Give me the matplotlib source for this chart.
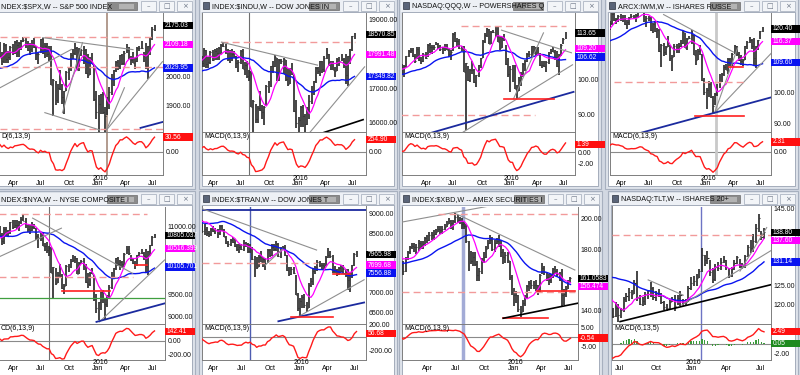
import numpy as np
import pandas as pd
import matplotlib
matplotlib.use("Agg")
import matplotlib.pyplot as plt
from matplotlib import transforms
from matplotlib.patches import Rectangle

W, H = 800, 375
FONT = ["Liberation Sans Narrow", "Liberation Sans", "DejaVu Sans"]
plt.rcParams["font.family"] = FONT

# weekly bars, Fridays 2014-09-05 .. 2016-07-22 (99 weeks); closes cover the whole span,
# highs/lows start at the index given next to them
weeks = pd.date_range("2014-09-05", "2016-07-22", freq="W-FRI")

spx_close = [2008, 1985, 2010, 1982, 1967, 1906, 1886, 1964, 2018, 2032,
             2039, 2064, 2068, 2075, 2002, 2071, 2088, 2058, 2045, 2019,
             2051, 1995, 2055, 2097, 2110, 2104, 2071, 2053, 2108, 2061,
             2067, 2102, 2081, 2117, 2108, 2116, 2123, 2126, 2107, 2092,
             2094, 2110, 2102, 2077, 2077, 2127, 2080, 2104, 2078, 2092,
             1971, 1989, 1921, 1961, 1958, 1931, 1951, 2015, 2033, 2075,
             2079, 2099, 2023, 2089, 2090, 2092, 2012, 2006, 2061, 2044,
             1922, 1880, 1907, 1940, 1880, 1865, 1918, 1948, 2000, 2022,
             2050, 2036, 2073, 2048, 2081, 2092, 2065, 2057, 2047, 2053,
             2099, 2099, 2096, 2071, 2037, 2103, 2130, 2162, 2175.03]
spx_start = 26
spx_high = [2118, 2083, 2114, 2111, 2089, 2103, 2111, 2120, 2126, 2117,
            2124, 2134, 2132, 2121, 2115, 2126, 2130, 2104, 2085, 2129,
            2133, 2114, 2113, 2105, 2103, 1993, 1986, 1975, 2021, 1974,
            1951, 2020, 2034, 2080, 2094, 2116, 2100, 2097, 2095, 2104,
            2094, 2076, 2067, 2082, 2038, 1950, 1936, 1940, 1947, 1895,
            1930, 1963, 2009, 2024, 2053, 2057, 2075, 2076, 2086, 2112,
            2100, 2070, 2085, 2064, 2100, 2103, 2121, 2085, 2113, 2103,
            2132, 2169, 2176]
spx_low = [2067, 2039, 2048, 2045, 2046, 2057, 2073, 2077, 2067, 2067,
           2092, 2119, 2099, 2086, 2072, 2084, 2097, 2056, 2044, 2080,
           2077, 2063, 2067, 2052, 1971, 1867, 1903, 1909, 1953, 1908,
           1872, 1952, 1990, 2019, 2059, 2073, 2022, 2019, 2070, 2042,
           2010, 1994, 2006, 2043, 1918, 1857, 1812, 1872, 1873, 1810,
           1869, 1891, 1937, 1969, 2017, 2022, 2026, 2039, 2039, 2080,
           2060, 2040, 2047, 2026, 2049, 2086, 2093, 2051, 2026, 1992,
           2075, 2126, 2155]

indu_close = [17137, 17031, 17280, 17113, 17010, 16544, 16380, 16805, 17391, 17573,
              17635, 17810, 17828, 17958, 17281, 17805, 18054, 17833, 17737, 17512,
              17673, 17165, 17825, 18019, 18140, 18133, 17857, 17749, 18128, 17713,
              17763, 18058, 17826, 18080, 18024, 18191, 18272, 18232, 18011, 17849,
              17899, 18016, 17947, 17730, 17760, 18087, 17569, 17690, 17373, 17477,
              16460, 16643, 16102, 16433, 16385, 16315, 16472, 17084, 17216, 17647,
              17664, 17910, 17245, 17824, 17798, 17848, 17265, 17128, 17553, 17425,
              16347, 15988, 16094, 16466, 16205, 15974, 16392, 16640, 17007, 17213,
              17602, 17516, 17793, 17577, 17898, 18004, 17774, 17741, 17535, 17501,
              17873, 17807, 17866, 17675, 17401, 17949, 18147, 18517, 18570.85]
indu_start = 26
indu_high = [18290, 17950, 18180, 18120, 17910, 18080, 18110, 18140, 18180, 18210,
             18290, 18350, 18300, 18150, 18110, 18140, 18100, 17950, 17830, 18130,
             18140, 17760, 17800, 17530, 17500, 16650, 16550, 16480, 16930, 16520,
             16500, 17100, 17220, 17650, 17800, 17980, 17880, 17860, 17850, 17900,
             17840, 17600, 17600, 17750, 17400, 16650, 16170, 16490, 16510, 16250,
             16450, 16800, 17060, 17210, 17630, 17630, 17800, 17800, 17940, 18170,
             18010, 17800, 17810, 17620, 17890, 17930, 18000, 17900, 18010, 17950,
             18150, 18540, 18620]
indu_low = [17830, 17630, 17620, 17610, 17600, 17700, 17810, 17820, 17840, 17830,
            17990, 18200, 17990, 17800, 17740, 17800, 17900, 17600, 17470, 17700,
            17560, 17400, 17300, 17230, 16450, 15370, 15980, 16000, 16350, 16100,
            15940, 16500, 16860, 17050, 17460, 17630, 17230, 17230, 17720, 17420,
            17230, 17080, 17130, 17400, 16320, 15840, 15450, 15880, 15880, 15500,
            15930, 16120, 16540, 16820, 17170, 17420, 17350, 17450, 17480, 17850,
            17650, 17530, 17540, 17330, 17520, 17660, 17790, 17600, 17140, 17060,
            17710, 18100, 18450]

qqq_close = [100.0, 99.5, 100.4, 99.6, 99.2, 95.3, 95.0, 99.4, 101.4, 102.0,
             103.6, 104.8, 105.5, 104.8, 102.2, 104.6, 105.5, 102.9, 102.3, 101.2,
             104.4, 101.8, 103.9, 107.0, 108.5, 108.6, 107.0, 105.4, 109.0, 105.8,
             105.6, 107.6, 106.3, 110.3, 109.5, 109.5, 109.6, 110.5, 109.6, 108.9,
             108.7, 109.7, 108.7, 107.5, 108.1, 113.4, 111.2, 111.4, 109.3, 109.6,
             102.3, 104.8, 100.0, 103.0, 102.9, 99.4, 101.3, 104.2, 106.3, 111.4,
             113.2, 114.8, 110.5, 114.1, 114.1, 114.9, 110.9, 109.3, 112.3, 111.9,
             104.7, 101.8, 103.3, 104.3, 97.4, 96.9, 100.0, 101.8, 104.6, 105.6,
             107.5, 107.4, 109.8, 108.0, 109.2, 107.6, 104.4, 104.2, 104.0, 105.1,
             108.0, 108.5, 108.1, 106.6, 104.0, 107.2, 110.1, 112.0, 113.65]
qqq_start = 20
qqq_high = [104.8, 104.6, 104.3, 107.1, 108.6, 109.4, 109.3, 107.4, 109.6, 109.7,
            106.6, 107.8, 108.1, 110.5, 110.7, 110.3, 110.2, 111.1, 110.7, 110.2,
            109.6, 110.6, 110.4, 109.1, 108.6, 113.6, 113.9, 112.1, 112.0, 110.0,
            109.8, 104.9, 104.0, 103.3, 105.5, 103.3, 101.3, 104.4, 106.3, 111.5,
            113.6, 115.2, 114.7, 114.3, 114.6, 115.8, 115.5, 112.7, 112.4, 113.5,
            110.2, 106.5, 104.0, 104.4, 104.3, 98.6, 100.8, 102.3, 104.9, 105.8,
            107.7, 108.3, 110.0, 109.9, 109.6, 109.7, 107.8, 105.6, 105.5, 105.5,
            108.2, 108.9, 109.6, 108.6, 108.3, 107.4, 110.4, 112.3, 114.1]
qqq_low = [101.0, 101.6, 100.7, 103.6, 106.6, 107.9, 106.8, 105.0, 106.0, 105.5,
           104.7, 105.1, 106.0, 106.6, 107.8, 107.5, 108.6, 110.2, 109.1, 108.3,
           107.6, 108.3, 108.6, 106.7, 105.8, 108.3, 110.9, 109.6, 108.9, 108.3,
           102.3, 85.5, 99.7, 99.3, 101.8, 99.1, 97.9, 100.8, 103.4, 106.3,
           110.8, 112.5, 110.4, 110.5, 113.7, 112.4, 110.9, 108.7, 109.2, 111.3,
           104.3, 100.8, 96.6, 99.5, 97.3, 94.4, 96.9, 98.3, 100.9, 102.5,
           105.3, 106.6, 106.5, 107.4, 107.3, 107.5, 103.9, 103.6, 103.7, 102.2,
           104.7, 107.6, 108.0, 105.9, 103.7, 101.4, 107.0, 110.6, 111.9]

iwm_close = [115.9, 114.8, 113.4, 110.5, 109.4, 106.4, 108.3, 111.3, 116.6, 116.8,
             117.1, 117.4, 116.0, 117.2, 114.7, 119.0, 120.3, 119.3, 118.2, 117.8,
             118.8, 116.1, 119.1, 120.4, 122.2, 123.3, 121.5, 122.4, 125.2, 123.4,
             123.6, 124.6, 123.8, 124.0, 122.0, 122.7, 123.8, 124.5, 124.2, 124.8,
             126.2, 127.1, 126.0, 123.6, 123.9, 123.8, 120.1, 122.0, 119.8, 119.9,
             113.2, 115.4, 113.0, 114.6, 115.8, 111.0, 111.5, 114.8, 114.9, 114.8,
             115.9, 119.5, 114.4, 117.1, 117.4, 118.6, 112.0, 110.5, 113.3, 112.5,
             103.9, 100.3, 100.9, 102.8, 98.6, 95.6, 99.5, 100.6, 105.8, 106.1,
             108.3, 107.1, 110.8, 109.0, 112.5, 114.8, 112.5, 110.5, 110.2, 110.3,
             114.9, 116.3, 116.8, 115.0, 111.0, 114.8, 116.7, 119.6, 120.4]
iwm_start = 26
iwm_high = [123.6, 123.0, 125.5, 125.4, 124.0, 124.8, 125.3, 124.9, 124.8, 123.3,
            124.1, 125.1, 124.8, 125.2, 126.4, 127.5, 128.2, 125.7, 124.6, 124.6,
            124.3, 122.4, 122.8, 120.7, 120.5, 115.5, 115.8, 115.0, 118.0, 115.2,
            111.9, 115.6, 115.5, 116.0, 117.0, 119.7, 119.1, 117.4, 118.2, 119.9,
            118.6, 113.8, 113.9, 115.2, 112.5, 104.7, 101.6, 103.8, 103.3, 98.8,
            99.8, 102.8, 106.1, 106.3, 108.9, 109.1, 111.0, 111.2, 112.7, 115.1,
            114.8, 112.9, 112.0, 110.8, 115.0, 116.5, 117.8, 117.3, 117.4, 114.9,
            116.9, 119.7, 121.0]
iwm_low = [121.1, 120.2, 121.8, 122.8, 122.1, 122.6, 123.0, 122.7, 121.7, 120.5,
           121.8, 123.8, 123.5, 122.6, 123.9, 125.4, 125.7, 122.7, 121.1, 122.9,
           119.8, 119.0, 119.5, 117.5, 113.0, 108.3, 111.6, 112.0, 114.5, 110.2,
           107.0, 111.3, 112.8, 112.7, 114.5, 115.7, 114.4, 113.7, 117.1, 115.7,
           112.0, 108.9, 110.3, 112.2, 103.6, 99.4, 94.8, 98.7, 98.3, 93.6,
           96.2, 98.8, 101.5, 103.3, 105.3, 107.1, 106.1, 108.4, 108.4, 112.3,
           111.8, 110.1, 108.8, 108.5, 110.6, 114.0, 116.0, 113.9, 109.0, 108.0,
           113.8, 117.2, 119.3]

nya_close = [11100, 10990, 11050, 10830, 10690, 10380, 10320, 10620, 10830, 10860,
             10870, 10970, 10950, 10950, 10540, 10830, 10960, 10790, 10650, 10570,
             10690, 10380, 10720, 10900, 10950, 10930, 10820, 10670, 10950, 10870,
             10880, 11090, 10990, 11040, 11040, 11090, 11170, 11130, 10990, 10940,
             10920, 10990, 10960, 10780, 10740, 10800, 10580, 10560, 10480, 10530,
             9980, 10100, 9750, 9930, 9900, 9640, 9690, 10120, 10150, 10240,
             10250, 10310, 9960, 10200, 10230, 10160, 9770, 9730, 9970, 9960,
             9390, 9190, 9330, 9540, 9420, 9290, 9470, 9660, 9980, 10080,
             10300, 10170, 10210, 10180, 10400, 10500, 10420, 10260, 10200, 10160,
             10360, 10420, 10410, 10350, 10120, 10450, 10590, 10760, 10805.04]
nya_start = 26
nya_high = [11020, 10850, 10990, 10990, 10930, 11100, 11150, 11140, 11140, 11120,
            11210, 11250, 11180, 11040, 11030, 11100, 11050, 10960, 10830, 10860,
            10850, 10640, 10650, 10560, 10540, 10110, 10090, 10000, 10180, 9960,
            9730, 10150, 10180, 10280, 10360, 10350, 10300, 10220, 10250, 10300,
            10170, 9970, 9990, 10080, 9920, 9500, 9330, 9550, 9590, 9420,
            9480, 9700, 10000, 10090, 10310, 10320, 10260, 10240, 10410, 10560,
            10560, 10380, 10300, 10240, 10370, 10440, 10510, 10440, 10500, 10460,
            10600, 10780, 10840]
nya_low = [10770, 10590, 10620, 10800, 10760, 10830, 10950, 10960, 10950, 10900,
           11050, 11120, 10960, 10880, 10830, 10900, 10940, 10700, 10520, 10680,
           10570, 10460, 10420, 10350, 9980, 9420, 9700, 9750, 9890, 9620,
           9500, 9690, 9990, 10080, 10210, 10190, 9960, 9950, 10170, 10030,
           9760, 9640, 9680, 9940, 9360, 9080, 8940, 9160, 9310, 8940,
           9220, 9390, 9620, 9840, 10030, 10130, 10030, 10090, 10110, 10400,
           10380, 10230, 10160, 10050, 10130, 10340, 10390, 10250, 9970, 9920,
           10340, 10580, 10740]

tran_close = [8520, 8480, 8460, 8330, 8360, 8070, 8150, 8480, 8840, 8920,
              8880, 9030, 9050, 9140, 8880, 9200, 9240, 9070, 8880, 8730,
              8780, 8500, 8780, 8950, 9050, 8960, 8810, 8550, 8600, 8500,
              8470, 8600, 8560, 8570, 8490, 8670, 8570, 8410, 8250, 8230,
              8320, 8270, 8180, 8100, 8140, 8100, 8250, 8230, 8050, 8160,
              7850, 7900, 7650, 7900, 7780, 7850, 7750, 8080, 7960, 8150,
              8100, 8230, 7930, 8100, 8140, 7960, 7570, 7480, 7610, 7510,
              6960, 6620, 6800, 6900, 6700, 6630, 7200, 7300, 7560, 7640,
              7780, 7690, 7700, 7680, 7900, 7960, 7930, 7540, 7580, 7470,
              7620, 7560, 7590, 7450, 7330, 7520, 7700, 7980, 7965.98]
tran_start = 26
tran_high = [9100, 8830, 8720, 8640, 8540, 8620, 8680, 8620, 8600, 8700,
             8700, 8610, 8420, 8310, 8360, 8390, 8340, 8230, 8230, 8230,
             8320, 8280, 8260, 8230, 8160, 7920, 7900, 7960, 8040, 7890,
             7870, 8110, 8100, 8220, 8220, 8290, 8240, 8150, 8180, 8200,
             7950, 7640, 7650, 7650, 7460, 7000, 6870, 6940, 6980, 6780,
             7250, 7380, 7600, 7680, 7830, 7800, 7760, 7760, 7930, 8130,
             8050, 7940, 7680, 7610, 7650, 7700, 7690, 7600, 7590, 7520,
             7700, 8000, 8040]
tran_low = [8780, 8500, 8450, 8430, 8390, 8420, 8520, 8480, 8380, 8440,
            8550, 8390, 8220, 8150, 8180, 8240, 8160, 8050, 8000, 8080,
            8050, 8140, 8010, 8010, 7830, 7400, 7600, 7650, 7770, 7650,
            7570, 7740, 7900, 7920, 8050, 8060, 7900, 7880, 8080, 7920,
            7560, 7420, 7450, 7470, 6950, 6550, 6403, 6620, 6630, 6520,
            6610, 7150, 7200, 7470, 7560, 7650, 7580, 7570, 7670, 7870,
            7880, 7510, 7500, 7420, 7450, 7520, 7500, 7390, 7080, 7020,
            7380, 7680, 7900]

xbd_close = [170, 169, 168, 165, 163, 158, 159, 165, 172, 174,
             175, 176, 177, 178, 172, 178, 181, 178, 175, 168,
             170, 166, 174, 178, 181, 182, 181, 181, 184, 182,
             183, 187, 186, 189, 189, 190, 191, 193, 192, 193,
             194, 196, 198, 197, 198, 201, 199, 199, 196, 195,
             185, 178, 172, 175, 170, 163, 166, 172, 175, 180,
             184, 186, 180, 184, 185, 186, 178, 175, 176, 173,
             162, 152, 150, 150, 141, 139, 145, 149, 156, 158,
             157, 157, 157, 153, 163, 168, 165, 162, 160, 163,
             167, 166, 164, 160, 150, 151, 154, 159, 161.06]
xbd_start = 20
xbd_high = [173, 172, 175, 179, 182, 184, 184, 183, 186, 185,
            185, 188, 189, 191, 191, 192, 193, 195, 195, 195,
            196, 198, 200, 199, 199, 203, 202, 201, 200, 198,
            196, 185, 179, 178, 178, 172, 168, 174, 178, 182,
            186, 189, 188, 186, 187, 189, 186, 180, 178, 178,
            172, 163, 155, 153, 150, 143, 147, 150, 157, 159,
            160, 159, 160, 157, 164, 171, 169, 165, 164, 164,
            168, 169, 167, 165, 167, 154, 156, 160, 162]
xbd_low = [165, 163, 165, 173, 177, 180, 178, 177, 179, 180,
           180, 182, 184, 185, 186, 186, 189, 191, 190, 190,
           192, 194, 196, 193, 192, 197, 197, 196, 193, 193,
           184, 166, 170, 169, 169, 159, 159, 164, 171, 174,
           180, 183, 179, 178, 183, 181, 175, 170, 171, 171,
           160, 150, 143, 145, 139, 136, 139, 143, 148, 153,
           154, 154, 153, 150, 152, 164, 163, 159, 157, 158,
           161, 164, 162, 159, 143, 144, 149, 154, 158]

tlt_close = [116.5, 114.8, 116.5, 117.7, 119.6, 120.9, 120.5, 119.9, 119.3, 118.5,
             118.9, 120.0, 123.2, 121.5, 125.0, 123.7, 125.5, 127.4, 130.3, 133.3,
             134.4, 138.3, 132.0, 129.3, 129.5, 131.7, 126.0, 128.3, 131.4, 130.0,
             131.7, 129.6, 131.0, 128.6, 125.4, 123.2, 125.2, 122.7, 124.0, 118.5,
             117.5, 118.9, 117.0, 119.1, 117.3, 118.5, 121.4, 122.2, 123.3, 122.7,
             125.5, 121.7, 120.0, 120.8, 122.8, 123.4, 124.3, 121.8, 122.7, 122.6,
             120.7, 119.3, 119.1, 120.6, 121.5, 119.5, 121.6, 122.5, 120.6, 120.6,
             124.3, 125.6, 126.0, 126.9, 128.8, 132.8, 131.5, 132.0, 128.4, 126.6,
             129.9, 129.6, 131.2, 131.6, 129.9, 127.3, 129.3, 130.9, 132.3, 130.1,
             130.0, 132.6, 135.1, 134.8, 136.6, 140.0, 142.5, 137.5, 138.8]
tlt_start = 42
tlt_high = [119.0, 120.5, 120.0, 119.0, 121.8, 123.0, 124.2, 123.8, 126.5, 128.8,
            122.5, 121.8, 123.3, 123.8, 125.9, 124.6, 123.4, 124.0, 123.0, 121.0,
            120.2, 121.2, 121.8, 122.5, 122.5, 123.6, 121.5, 121.3, 124.8, 127.2,
            127.5, 128.0, 129.3, 134.8, 133.0, 134.0, 131.5, 129.5, 130.5, 131.0,
            132.0, 132.6, 131.5, 129.5, 129.8, 131.5, 132.6, 131.8, 130.8, 133.0,
            135.5, 136.8, 138.5, 141.0, 143.6, 139.2, 140.0]
tlt_low = [116.5, 116.8, 115.5, 116.5, 118.0, 120.5, 120.8, 121.5, 122.6, 121.0,
           119.8, 119.6, 119.9, 121.5, 122.0, 121.2, 121.0, 121.8, 120.2, 118.5,
           118.2, 118.8, 120.5, 118.3, 119.8, 119.5, 119.6, 119.5, 120.5, 123.8,
           124.8, 124.9, 126.9, 128.5, 130.0, 130.5, 127.5, 125.6, 126.2, 128.6,
           129.0, 130.8, 129.0, 127.0, 127.2, 129.0, 130.5, 129.5, 129.2, 129.5,
           132.4, 133.5, 133.8, 136.0, 139.0, 136.8, 137.2]

# value tags on the right axis: close, 8-week and 30-week average, MACD (and histogram)
spx_tags = ["2175.03", "2109.18", "2029.95", "30.56"]
indu_tags = ["18570.85", "17991.48", "17349.82", "254.90"]
qqq_tags = ["113.65", "109.20", "106.62", "1.39"]
iwm_tags = ["120.40", "116.37", "109.60", "2.31"]
nya_tags = ["10805.037", "10516.399", "10105.701", "142.41"]
tran_tags = ["7965.98", "7699.68", "7556.88", "56.68"]
xbd_tags = ["161.0583", "156.474", None, "-0.54"]
tlt_tags = ["138.80", "137.60", "131.14", "2.49", "0.05"]

months = [("2015-01-01", "Jan"), ("2015-04-01", "Apr"), ("2015-07-01", "Jul"),
          ("2015-10-01", "Oct"), ("2016-01-01", "Jan"), ("2016-04-01", "Apr"),
          ("2016-07-01", "Jul")]

STYLES = {"gray": ("#8f8f8f", 0.8, "-"), "pink": ("#f29a9a", 1.0, (0, (5, 3))),
          "red": ("#ff2020", 1.2, "-"), "navy": ("#1b2a9e", 1.3, "-"),
          "black": ("#000000", 1.2, "-"), "green": ("#3f9f3f", 0.9, "-")}

TOP = (-2, 189, 13, 132, 175)
BOT = (191, 378, 206.5, 323.5, 360)

panels = [
    dict(title="NDEX:$SPX,W -- S&P 500 INDEX", tx=1, macd_label="D(6,13,9)", mlab=1,
         close=spx_close, start=spx_start, high=spx_high, low=spx_low,
         tags=spx_tags, row=TOP, win=(-14, 195), plot=(0, 163), last_x=154.5, pxw=2.15,
         ylim=(1811, 2217), yt=[1900, 2000, 2100, 2200], mt=[0], mpad=(0.09, 0.14),
         ann=[("h", 2136, None, None, "pink"), ("h", 2032, None, None, "pink"), ("h", 1821, None, None, "pink"),
              ("l", 46, 2133, 88, 2092, "gray"), ("l", 47, 1877, 72.5, 1818, "gray"),
              ("l", 25.9, 1961, 59.4, 2093, "gray"), ("l", 55.2, 1877, 64.5, 2116, "gray"),
              ("l", 75.7, 1818, 101.7, 2051, "gray"), ("l", 75.7, 1818, 84, 1962, "gray"),
              ("l", 91.5, 1825, 101.7, 1845, "navy"), ("v", 76.1, "#a58a7c", 1.2)]),
    dict(title="INDEX:$INDU,W -- DOW JONES IN", close=indu_close, start=indu_start, high=indu_high, low=indu_low,
         tags=indu_tags, row=TOP, win=(199, 397), plot=(202, 366), last_x=354.5, pxw=2.15,
         ylim=(15730, 19200), yt=[16000, 17000, 18000, 19000], mt=[0], mpad=(0.1, 0.15),
         ann=[("h", 18350, 36.1, 98, "pink"), ("l", 36.1, 18350, 80.8, 17680, "gray"),
              ("l", 77, 15700, 102.7, 17630, "gray"), ("l", 83, 15700, 102, 16090, "black"),
              ("v", 49, "#6f6f6f", 0.8)]),
    dict(title="NASDAQ:QQQ,W -- POWERSHARES Q", close=qqq_close, start=qqq_start, high=qqq_high, low=qqq_low,
         tags=qqq_tags, row=TOP, win=(399, 601), plot=(402, 575), last_x=565.5, pxw=2.12,
         ylim=(84.8, 119.5), yt=[90, 100, 110], mt=[-2, 0, 2], mpad=(0.14, 0.23),
         ann=[("h", 115.7, 48.5, 98, "pink"), ("h", 89.8, 20.2, 83.8, "pink"),
              ("l", 67.8, 114.5, 100.8, 107.9, "gray"), ("l", 49, 84.5, 101.3, 104.4, "gray"),
              ("l", 73.5, 94.5, 87.6, 113.7, "gray"), ("l", 34.3, 84.5, 101.8, 96.5, "navy"),
              ("h", 94.5, 69.2, 92.8, "red")]),
    dict(title="ARCX:IWM,W -- ISHARES RUSSE", close=iwm_close, start=iwm_start, high=iwm_high, low=iwm_low,
         tags=iwm_tags, row=TOP, win=(605, 798), plot=(610, 771), last_x=762.5, pxw=2.15,
         ylim=(87.4, 125.5), yt=[90, 100, 110, 120], mt=[0], mpad=(0.09, 0.32),
         ann=[("v", 76.2, "#c9c9c9", 2.0),
              ("l", 52, 125, 84.5, 113, "gray"), ("l", 75.7, 93.5, 86.4, 114.3, "gray"),
              ("l", 75.7, 93.5, 102.6, 113, "gray"), ("l", 34.3, 85.8, 102.6, 98.6, "navy"),
              ("h", 103.4, 28.7, 89.2, "pink"), ("h", 92.6, 66.8, 89.2, "red"),
              ("h", 108.3, 82.2, 88.7, "red")]),
    dict(title="NDEX:$NYA,W -- NYSE COMPOSITE I", tx=1, macd_label="CD(6,13,9)", mlab=1,
         close=nya_close, start=nya_start, high=nya_high, low=nya_low,
         tags=nya_tags, row=BOT, win=(-14, 195), plot=(0, 165), last_x=154.5, pxw=2.15,
         ylim=(8853, 11444), yt=[9000, 9500, 10000, 10500, 11000], mt=[-200, 0], mpad=(0.03, 0.16),
         ann=[("h", 11282, 25.9, 94.3, "pink"), ("h", 9876, 25.9, 87.8, "pink"),
              ("h", 9564, 55.2, 77.1, "red"), ("h", 10149, 88.7, 94.7, "red"),
              ("h", 9418, None, None, "green"),
              ("l", 41.3, 11187, 87.8, 9964, "gray"), ("l", 25.9, 10333, 54.7, 10964, "gray"),
              ("l", 72.4, 8889, 102.7, 10260, "gray"), ("l", 71, 8889, 102.7, 9298, "navy"),
              ("v", 48.7, "#6f6f6f", 0.8)]),
    dict(title="INDEX:$TRAN,W -- DOW JONES T", close=tran_close, start=tran_start, high=tran_high, low=tran_low,
         tags=tran_tags, row=BOT, win=(199, 397), plot=(202, 366), last_x=356.5, pxw=2.17,
         ylim=(6234, 9166), yt=[6500, 7000, 7500, 8000, 8500, 9000], mt=[-200, 0, 200], mpad=(0.05, 0.11),
         ann=[("h", 9083, None, None, "navy"), ("l", 26, 9126, 79.6, 8075, "gray"),
              ("l", 71, 6400, 101.5, 7330, "gray"), ("l", 62, 6290, 101.5, 6760, "navy"),
              ("h", 7745, 26.6, 79.6, "pink"), ("h", 6400, 67.6, 87.4, "red"),
              ("h", 7467, 87.4, 95.2, "red"), ("l", 56, 7700, 64, 8100, "gray"),
              ("v", 49, "#4e5cb0", 1.0)]),
    dict(title="INDEX:$XBD,W -- AMEX SECURITIES I", close=xbd_close, start=xbd_start, high=xbd_high, low=xbd_low,
         tags=xbd_tags, row=BOT, win=(399, 602), plot=(402, 578), last_x=570.5, pxw=2.17,
         ylim=(131.8, 207.5), yt=[140, 160, 180, 200], mt=[-5, 0, 5], mpad=(0.12, 0.25),
         ann=[("v", 48.6, "#a3abd6", 2.5),
              ("l", 20.2, 197.4, 59.4, 207.5, "gray"), ("h", 202.6, 36.9, 101.5, "pink"),
              ("l", 45.6, 202.6, 100, 166.4, "gray"), ("h", 152.4, 20.3, 100, "pink"),
              ("h", 152.8, 82.4, 100, "red"), ("h", 135.5, 66.9, 87.6, "red"),
              ("l", 67, 135.2, 101.6, 145, "black")]),
    dict(title="NASDAQ:TLT,W -- ISHARES 20+", close=tlt_close, start=tlt_start, high=tlt_high, low=tlt_low,
         tags=tlt_tags, row=BOT, win=(608, 798), plot=(612, 771), last_x=764, pxw=2.7,
         ylim=(115, 145.6), yt=[120, 125, 130, 135, 140, 145], mt=[-2, 0], mpad=(0.06, 0.17),
         signal=5,
         ann=[("v", 74.6, "#6d74c4", 1.0), ("h", 138.2, None, None, "pink"),
              ("l", 44.7, 115.5, 100.9, 125.2, "black"), ("l", 55.1, 126.4, 68.1, 122.4, "gray"),
              ("l", 67.5, 119.8, 100.9, 134.2, "gray"), ("l", 89.1, 128.7, 99, 140.1, "gray")]),
]


def fig_rect(x0, y0, x1, y1):
    return [x0 / W, 1 - y1 / H, (x1 - x0) / W, (y1 - y0) / H]


def week_pos(d):
    return (pd.Timestamp(d) - weeks[0]).days / 7


TAG_H = 7.5


def spread(values, lim, ax_h):
    # tags closer than one box height are stacked downwards so they do not cover each other
    scale = ax_h / (lim[1] - lim[0])
    out = list(values)
    order = sorted(range(len(out)), key=lambda i: -out[i])
    for a, b in zip(order, order[1:]):
        if (out[a] - out[b]) * scale < TAG_H + 0.5:
            out[b] = out[a] - (TAG_H + 0.5) / scale
    return out


def tag(ax, value, text, fc, ax_w, ax_h, lim, w_px=30, z=6):
    tr = transforms.blended_transform_factory(ax.transAxes, ax.transData)
    h = TAG_H * (lim[1] - lim[0]) / ax_h
    ax.add_patch(Rectangle((1.0, value - h / 2), w_px / ax_w, h, transform=tr, fc=fc, ec="none",
                           clip_on=False, zorder=z))
    ax.text(1.0 + 2 / ax_w, value, text, transform=tr, fontsize=4.8, color="white", va="center",
            ha="left", clip_on=False, zorder=z + 0.5)


def free_ticks(ticks, tag_vals, lim, ax_h, gap=7.5):
    # a tick label that would sit under a value tag is not drawn
    scale = ax_h / (lim[1] - lim[0])
    return [t for t in ticks if all(abs(t - v) * scale > gap for v in tag_vals)]


fig = plt.figure(figsize=(8, 3.75), dpi=100)
fig.patch.set_facecolor("#d2d8e2")
bg = fig.add_axes([0, 0, 1, 1])
bg.set_xlim(0, W)
bg.set_ylim(H, 0)
bg.axis("off")

PT = 72 / 100  # points per pixel

for p in panels:
    wy0, wy1, top, mid, bot = p["row"]
    wx0, wx1 = p["win"]
    left, right = p["plot"]

    # window chrome
    bg.add_patch(Rectangle((wx0, wy0), wx1 - wx0, wy1 - wy0, fc="#dde2ea", ec="#a7b0bf", lw=0.8))
    bg.add_patch(Rectangle((wx0 + 2, wy0 + 2), wx1 - wx0 - 4, 12, fc="#edf0f5", ec="none"))
    bg.add_patch(Rectangle((wx0 + 3, wy0 + 14), wx1 - wx0 - 6, wy1 - wy0 - 17, fc="white",
                           ec="#98a2b2", lw=0.6))
    if wx0 > 0:
        bg.add_patch(Rectangle((wx0 + 4, wy0 + 4), 6, 7, fc="#5a6478", ec="#2c3340", lw=0.5))
    bg.text(p.get("tx", wx0 + 13), wy0 + 8.3, p["title"], fontsize=5.2, va="center", ha="left",
            color="#111111")
    bg.add_patch(Rectangle((wx1 - 88, wy0 + 4), 30, 8, fc="#8b8b8b", ec="#6b6b6b", lw=0.5))
    bg.add_patch(Rectangle((wx1 - 76, wy0 + 5.5), 15, 5, fc="#b3b3b3", ec="none"))
    for bx, glyph in [(wx1 - 54, "\u2013"), (wx1 - 36, "\u25a1"), (wx1 - 18, "\u00d7")]:
        bg.add_patch(Rectangle((bx, wy0 + 3), 15, 10, fc="#f3f5f8", ec="#aeb6c3", lw=0.6))
        bg.text(bx + 7.5, wy0 + 8, glyph, fontsize=5, ha="center", va="center", color="#6a7384",
                family="DejaVu Sans")

    x_lo = 98 - (p["last_x"] - left) / p["pxw"]
    x_hi = 98 + (right - p["last_x"]) / p["pxw"]

    axp = fig.add_axes(fig_rect(left, top, right, mid))
    axm = fig.add_axes(fig_rect(left, mid, right, bot))
    ax_w = right - left
    ah = mid - top
    mh = bot - mid

    c = pd.Series(p["close"], dtype=float)
    xs_all = np.arange(len(c))
    ma8 = c.rolling(8, min_periods=1).mean()
    ma30 = c.rolling(30, min_periods=1).mean()
    macd = c.ewm(span=6, adjust=False).mean() - c.ewm(span=13, adjust=False).mean()

    hi = np.array(p["high"], dtype=float)
    lo = np.array(p["low"], dtype=float)
    xs = np.arange(p["start"], p["start"] + len(hi))
    axp.vlines(xs, lo, hi, color="#2e2e2e", lw=1.25, zorder=3)
    axp.hlines(c.values[xs], xs, xs + 0.45, color="#2e2e2e", lw=0.8, zorder=3)
    axp.plot(xs_all, ma30, color="#0a14f0", lw=1.0, zorder=4)
    axp.plot(xs_all, ma8, color="#ff00ff", lw=0.9, zorder=4)

    for a in p["ann"]:
        if a[0] == "v":
            for ax in (axp, axm):
                ax.axvline(a[1], color=a[2], lw=a[3], zorder=2)
            continue
        if a[0] == "h":
            _, y, x0, x1, st = a
            x0 = x_lo if x0 is None else x0
            x1 = x_hi if x1 is None else x1
            y0 = y1 = y
        else:
            _, x0, y0, x1, y1, st = a
        col, lw, ls = STYLES[st]
        axp.plot([x0, x1], [y0, y1], color=col, lw=lw, ls=ls, zorder=5)

    axp.set_xlim(x_lo, x_hi)
    axp.set_ylim(*p["ylim"])
    axm.set_xlim(x_lo, x_hi)

    axm.axhline(0, color="#8a8a8a", lw=0.8, zorder=1)
    if "signal" in p:
        hist = macd - macd.ewm(span=p["signal"], adjust=False).mean()
        axm.bar(xs_all, hist, width=0.45, color="#3c9c3c", zorder=2)
    axm.plot(xs_all, macd, color="#ff1a1a", lw=1.0, zorder=3)
    vis = macd[(xs_all >= x_lo) & (xs_all <= x_hi)]
    rng = vis.max() - vis.min()
    mlim = (vis.min() - p["mpad"][0] * rng, vis.max() + p["mpad"][1] * rng)
    axm.set_ylim(*mlim)
    mtext = p.get("macd_label", "MACD(6,13,%d)" % p.get("signal", 9))
    axm.annotate(mtext, xy=(0, 1), xycoords="axes fraction",
                 xytext=(p.get("mlab", 2) * PT, -1.5 * PT), textcoords="offset points", va="top",
                 fontsize=5, annotation_clip=False)

    t = p["tags"]
    price_txt = [(v, col) for v, col in zip(t[:3], ["#000000", "#ff00ff", "#0a14f0"]) if v]
    macd_txt = list(zip(t[3:], ["#ff1010", "#1e8a1e"]))
    price_pos = spread([float(v) for v, _ in price_txt], p["ylim"], ah)
    macd_pos = spread([float(v) for v, _ in macd_txt], mlim, mh)

    for ax, ticks, lim, hh, tv in ((axp, p["yt"], p["ylim"], ah, price_pos),
                                   (axm, p["mt"], mlim, mh, macd_pos)):
        ticks = free_ticks(ticks, tv, lim, hh)
        ax.set_yticks(ticks)
        ax.set_yticklabels(["%.2f" % v for v in ticks])
        ax.yaxis.tick_right()
        ax.tick_params(axis="y", length=0, pad=2, labelsize=5, labelcolor="#111111")
        ax.set_xticks([])
        ax.set_facecolor("white")
        for s in ax.spines.values():
            s.set_color("#7d7d7d")
            s.set_linewidth(0.7)
        ax.spines["top"].set_visible(ax is axm)
        ax.spines["left"].set_visible(left > 0)

    for (txt, col), y in zip(price_txt, price_pos):
        tag(axp, y, txt, col, ax_w, ah, p["ylim"])
    for (txt, col), y in zip(macd_txt, macd_pos):
        tag(axm, y, txt, col, ax_w, mh, mlim)

    for d, lbl in months:
        xp = week_pos(d)
        if x_lo <= xp <= x_hi - 3:
            axm.annotate(lbl, xy=(xp, 0), xycoords=("data", "axes fraction"), xytext=(0, -8.5 * PT),
                         textcoords="offset points", ha="left", va="center", fontsize=5,
                         annotation_clip=False)
            if lbl == "Jan":
                axm.annotate(d[:4], xy=(xp, 0), xycoords=("data", "axes fraction"),
                             xytext=(0, -3 * PT), textcoords="offset points", ha="left",
                             va="center", fontsize=5, annotation_clip=False)

fig.savefig("out.png", dpi=100, facecolor=fig.get_facecolor())
